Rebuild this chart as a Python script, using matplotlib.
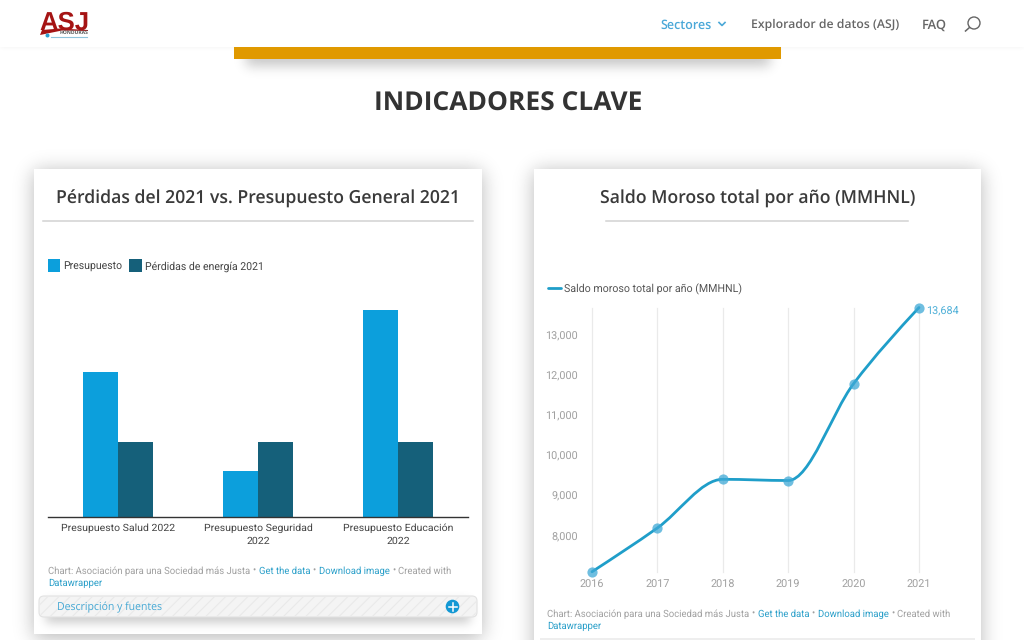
import math
import matplotlib
matplotlib.use("Agg")
import matplotlib.pyplot as plt
import numpy as np
from matplotlib.patches import Rectangle, FancyBboxPatch, Circle, PathPatch, Polygon
from matplotlib.path import Path
from matplotlib.ticker import FuncFormatter

# ---- data ----
bar_categories = ["Presupuesto Salud 2022", "Presupuesto Seguridad\n2022", "Presupuesto Educación\n2022"]
presupuesto = [19500, 6100, 27900]
perdidas = [10000, 10000, 10000]
years = [2016, 2017, 2018, 2019, 2020, 2021]
saldo = [7110, 8200, 9410, 9380, 11790, 13684]
y_ticks = [8000, 9000, 10000, 11000, 12000, 13000]

BLUE = "#0c9fdc"; DARK = "#15607a"; LINE = "#1f9ec9"; LINK = "#2a9fc9"
W, H = 1024, 640
plt.rcParams["text.hinting"] = "none"
plt.rcParams["text.hinting_factor"] = 8
fig = plt.figure(figsize=(W / 100, H / 100), dpi=100, facecolor="white")
plt.rcParams["font.family"] = ["Roboto", "DejaVu Sans"]
OS = ["Open Sans", "DejaVu Sans"]


def axes_px(x0, y0, x1, y1, **kw):
    return fig.add_axes([x0 / W, 1 - y1 / H, (x1 - x0) / W, (y1 - y0) / H], **kw)


bg = axes_px(0, 0, W, H, zorder=0)
bg.axis("off")

# soft drop shadows as one greyscale backdrop
erf = np.vectorize(math.erf)
px = np.arange(W) + 0.5
py = np.arange(H) + 0.5
light = np.ones((H, W))


def shadow(x0, y0, x1, y1, sigma, amount):
    s = sigma * math.sqrt(2)
    fx = 0.5 * (erf((px - x0) / s) - erf((px - x1) / s))
    fy = 0.5 * (erf((py - y0) / s) - erf((py - y1) / s))
    return 1 - amount * np.outer(fy, fx)


light *= shadow(0, 40, W, 48, 2, 0.04)
light *= shadow(246, 46, 770, 66, 6, 0.22)
light *= shadow(34, 171, 482, 638, 10, 0.28)
light *= shadow(534, 171, 981, 700, 10, 0.28)
bg.imshow(light, cmap="gray", vmin=0, vmax=1, extent=(0, W, H, 0), aspect="auto",
          interpolation="nearest", zorder=1)
bg.set_xlim(0, W); bg.set_ylim(H, 0)

# page header and gold band
bg.add_patch(Rectangle((234, 47), 547, 12, fc="#e09900", ec="none", zorder=2))
bg.add_patch(Rectangle((0, 0), W, 47, fc="white", ec="none", zorder=2))

# logo
bg.text(64, 30, "ASJ", family="Liberation Sans", fontsize=18.5, fontweight="bold", color="#a51414",
        ha="center", va="baseline", zorder=4)
bg.add_patch(Polygon([(40, 35), (42, 30), (60, 28.5), (88, 30), (88, 31), (62, 30.5)],
                     fc="#a51414", ec="none", zorder=4))
bg.text(88, 34.4, "HONDURAS", family=OS, fontsize=3.6, fontweight="bold", color="#555555",
        ha="right", va="baseline", zorder=4)
bg.add_patch(Circle((47.5, 35.5), 2, fc="#2a9fd0", ec="none", zorder=4))
bg.plot([51, 87], [36.5, 36.5], color="#8fc4dc", lw=0.8, zorder=4)

# navigation
nav = dict(family=OS, fontweight="semibold", va="baseline", zorder=4)
bg.text(660, 28.5, "Sectores", color="#4aa8d8", fontsize=9.0, **nav)
bg.plot([719, 722, 725], [22.5, 25.5, 22.5], color="#4aa8d8", lw=1.2, zorder=4)
bg.text(751, 28.5, "Explorador de datos (ASJ)", color="#666666", fontsize=8.8, **nav)
bg.text(922, 28.5, "FAQ", color="#666666", fontsize=9.3, **nav)
bg.add_patch(Circle((974, 23), 6, fc="none", ec="#666666", lw=1, zorder=4))
bg.plot([969.5, 965.5], [27.5, 31], color="#666666", lw=1.1, zorder=4)

bg.text(508, 111, "INDICADORES CLAVE", family=OS, fontsize=19.0, fontweight="bold",
        color="#333333", ha="center", va="baseline", zorder=4)

# cards
bg.add_patch(Rectangle((34, 169), 448, 465, fc="white", ec="none", zorder=2))
bg.add_patch(Rectangle((534, 169), 447, 480, fc="white", ec="none", zorder=2))

title_kw = dict(family=OS, fontsize=12.7, fontweight="semibold", color="#3a3a3a",
                ha="center", va="baseline", zorder=4)
bg.text(258, 203.5, "Pérdidas del 2021 vs. Presupuesto General 2021", **title_kw)
bg.text(757.5, 203.5, "Saldo Moroso total por año (MMHNL)", **title_kw)
bg.plot([43, 473], [220.5, 220.5], color="#d2d2d2", lw=1.1, zorder=4)
bg.plot([606, 908], [220.5, 220.5], color="#d2d2d2", lw=1.1, zorder=4)


# ---- bar chart ----
ax1 = axes_px(48, 300, 468, 516.5, zorder=3)
ax1.patch.set_alpha(0)
x = np.arange(len(bar_categories))
ax1.bar(x - 0.125, presupuesto, 0.25, color=BLUE, label="Presupuesto")
ax1.bar(x + 0.125, perdidas, 0.25, color=DARK, label="Pérdidas de energía 2021")
ax1.set_xlim(-0.5, 2.5)
ax1.set_ylim(0, max(presupuesto) * 216.5 / 206.5)
for s in ("top", "left", "right"):
    ax1.spines[s].set_visible(False)
ax1.spines["bottom"].set_color("#333333")
ax1.spines["bottom"].set_linewidth(1)
ax1.set_yticks([])
ax1.set_xticks(x, bar_categories, fontsize=7.55, color="#444444", linespacing=1.45)
ax1.tick_params(axis="x", length=0, pad=5.2)
bg.add_patch(Rectangle((48, 259), 12, 13, fc=BLUE, ec="none", zorder=4))
bg.add_patch(Rectangle((129, 259), 13, 13, fc=DARK, ec="none", zorder=4))
bg.text(63.5, 269.3, "Presupuesto", fontsize=7.6, color="#444444", va="baseline", zorder=4)
bg.text(145, 269.3, "Pérdidas de energía 2021", fontsize=7.6, color="#444444", va="baseline", zorder=4)


# ---- line chart ----
ax2 = axes_px(592, 308, 919, 572, zorder=3)
ax2.patch.set_alpha(0)
ax2.set_xlim(years[0], years[-1])
ax2.set_ylim(7104, 13672)


def monotone_path(xs, ys):
    """d3 curveMonotoneX as Bezier segments through the data points."""
    xs = np.asarray(xs, float); ys = np.asarray(ys, float)
    h = np.diff(xs); d = np.diff(ys) / h
    m = np.zeros_like(xs)
    for i in range(1, len(xs) - 1):
        if d[i - 1] * d[i] > 0:
            p = (d[i - 1] * h[i] + d[i] * h[i - 1]) / (h[i - 1] + h[i])
            m[i] = np.sign(d[i]) * min(abs(d[i - 1]), abs(d[i]), 0.5 * abs(p)) * 2
    m[0] = (3 * d[0] - m[1]) / 2
    m[-1] = (3 * d[-1] - m[-2]) / 2
    verts = [(xs[0], ys[0])]; codes = [Path.MOVETO]
    for i in range(len(h)):
        verts += [(xs[i] + h[i] / 3, ys[i] + m[i] * h[i] / 3),
                  (xs[i + 1] - h[i] / 3, ys[i + 1] - m[i + 1] * h[i] / 3),
                  (xs[i + 1], ys[i + 1])]
        codes += [Path.CURVE4] * 3
    return Path(verts, codes)


ax2.add_patch(PathPatch(monotone_path(years, saldo), fc="none", ec=LINE, lw=2.0,
                        capstyle="round", clip_on=False, zorder=3))
ax2.scatter(years, saldo, s=54, color="#3fa9d6", alpha=0.75, linewidths=0, clip_on=False, zorder=4)
ax2.set_xticks(years)
ax2.set_yticks(y_ticks)
ax2.yaxis.set_major_formatter(FuncFormatter(lambda v, _: f"{int(v):,}"))
ax2.grid(axis="x", color="#eaeaea", lw=0.9)
for g in ax2.get_xgridlines():
    g.set_clip_on(False)
ax2.set_axisbelow(True)
for s in ax2.spines.values():
    s.set_visible(False)
ax2.tick_params(length=0, labelsize=7.8, labelcolor="#a0a0a0")
ax2.tick_params(axis="y", pad=10)
ax2.tick_params(axis="x", pad=5.5)
ax2.annotate(f"{saldo[-1]:,}", (years[-1], saldo[-1]), xytext=(5.2, -2.8), textcoords="offset points",
             fontsize=7.8, color="#4fb0d8", va="center", annotation_clip=False)
bg.plot([548, 561], [287.5, 287.5], color=LINE, lw=2.0, solid_capstyle="round", zorder=4)
bg.text(564.5, 292, "Saldo moroso total por año (MMHNL)", fontsize=7.65, color="#555555",
        va="baseline", zorder=4)


# ---- footers ----
def footer(x0, y):
    parts = [("Chart: Asociación para una Sociedad más Justa", "#a0a0a0", 2.6), ("•", "#a0a0a0", 2.6),
             ("Get the data", LINK, 2.6), ("•", "#a0a0a0", 2.6), ("Download image", LINK, 2.6),
             ("•", "#a0a0a0", 2.6), ("Created with", "#a0a0a0", 0)]
    r = fig.canvas.get_renderer()
    xp = x0
    for s, c, gap in parts:
        t = bg.text(xp, y, s, fontsize=6.85, color=c, va="baseline", zorder=4)
        xp = bg.transData.inverted().transform(t.get_window_extent(r))[1, 0] + gap
    bg.text(x0, y + 12, "Datawrapper", fontsize=6.85, color=LINK, va="baseline", zorder=4)


footer(48, 574)
footer(547, 617)

# description strip
strip_shadow = shadow(46, 601, 470, 623, 5, 0.2)
bg.imshow(np.dstack([np.zeros((H, W))] * 3 + [1 - strip_shadow]), extent=(0, W, H, 0),
          aspect="auto", interpolation="nearest", zorder=2.5)
bg.set_xlim(0, W); bg.set_ylim(H, 0)
bg.add_patch(FancyBboxPatch((39, 596), 438, 21, boxstyle="round,pad=0,rounding_size=5",
                            fc="#f4f4f4", ec="#e2e2e2", lw=0.8, zorder=3))
plt.rcParams["hatch.linewidth"] = 0.8
bg.add_patch(FancyBboxPatch((40, 597), 436, 19, boxstyle="round,pad=0,rounding_size=4",
                            fc="none", ec="#e9e9e9", lw=0, hatch="///", zorder=3.1))
bg.text(57, 610.5, "Descripción y fuentes", family=OS, fontsize=7.6, color="#45a8d4",
        va="baseline", zorder=4)
bg.add_patch(Circle((452.5, 606.5), 6.8, fc="#1298d4", ec="none", zorder=4))
bg.plot([448.5, 456.5], [606.5, 606.5], color="white", lw=1.1, zorder=5)
bg.plot([452.5, 452.5], [602.5, 610.5], color="white", lw=1.1, zorder=5)
bg.add_patch(Rectangle((540, 638), 435, 3, fc="#eeeeee", ec="none", zorder=3))

fig.savefig("out.png", dpi=100, facecolor="white")
